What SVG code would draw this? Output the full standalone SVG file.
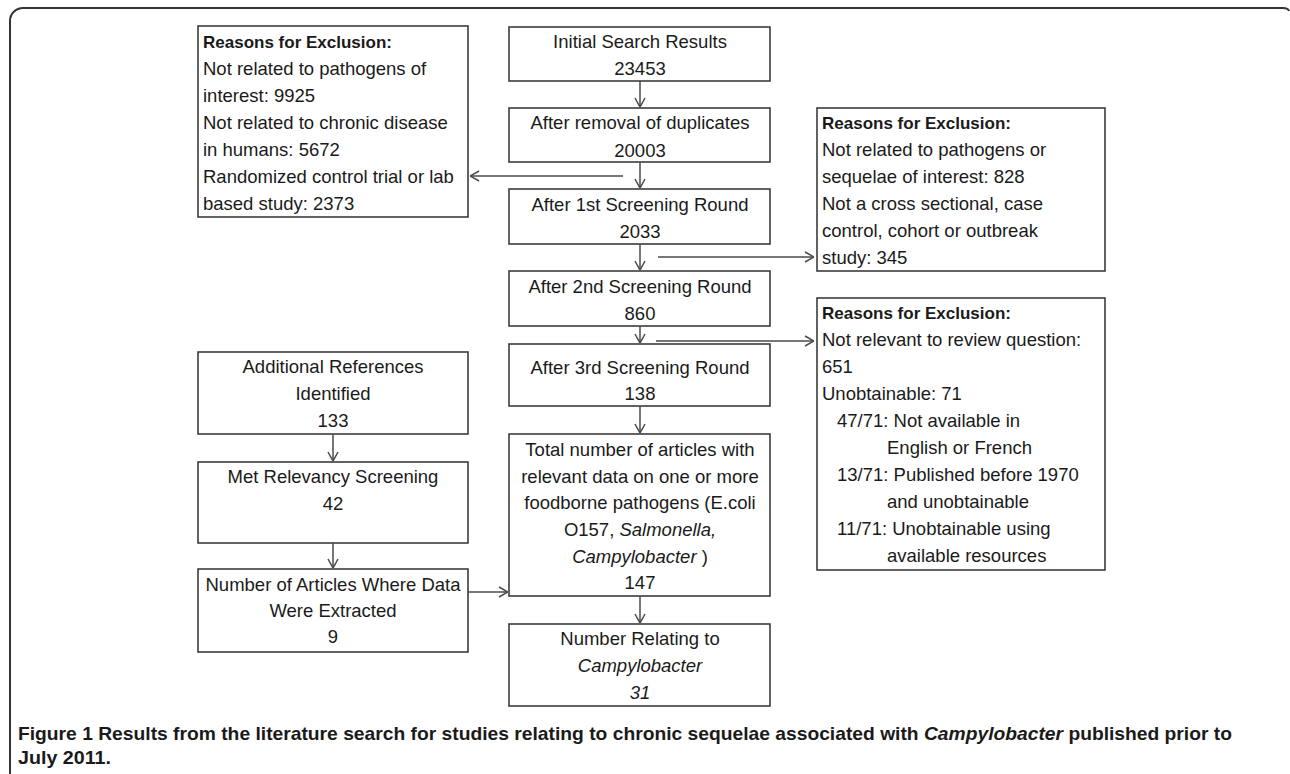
<svg xmlns="http://www.w3.org/2000/svg" width="1290" height="774" viewBox="0 0 1290 774">
<style>
.box{fill:#fff;stroke:#3c3c3c;stroke-width:1.6}
.t{font-family:"Liberation Sans",Arial,sans-serif;font-size:18.5px;fill:#1a1a1a}
.c{text-anchor:middle}
.b{font-weight:bold;font-size:17px}
.i{font-style:italic}
.con{stroke:#4a4a4a;stroke-width:1.5;fill:none}
.cap{font-family:"Liberation Sans",Arial,sans-serif;font-size:19px;font-weight:bold;fill:#1a1a1a}
</style>
<defs>
<marker id="ah" viewBox="0 0 10 12" refX="10" refY="6" markerWidth="10" markerHeight="12" markerUnits="userSpaceOnUse" orient="auto">
<path d="M1,1 L10,6 L1,11" fill="none" stroke="#4a4a4a" stroke-width="1.5"/>
</marker>
</defs>
<rect width="1290" height="774" fill="#fff"/>
<path d="M10,774 V21 A13,13 0 0 1 23,8 H1283 Q1288,8 1289,11" fill="none" stroke="#333" stroke-width="2"/>

<g id="excl1">
<rect class="box" x="198" y="26" width="270" height="191"/>
<text class="t b" x="203" y="48">Reasons for Exclusion:</text>
<text class="t" x="203" y="75">Not related to pathogens of</text>
<text class="t" x="203" y="102">interest: 9925</text>
<text class="t" x="203" y="129">Not related to chronic disease</text>
<text class="t" x="203" y="156">in humans: 5672</text>
<text class="t" x="203" y="183">Randomized control trial or lab</text>
<text class="t" x="203" y="210">based study: 2373</text>
</g>

<g id="initial">
<rect class="box" x="509" y="27" width="261" height="54"/>
<text class="t c" x="640" y="48">Initial Search Results</text>
<text class="t c" x="640" y="75">23453</text>
</g>
<g id="dedup">
<rect class="box" x="509" y="108" width="261" height="54"/>
<text class="t c" x="640" y="129">After removal of duplicates</text>
<text class="t c" x="640" y="157">20003</text>
</g>
<g id="round1">
<rect class="box" x="509" y="189" width="261" height="55"/>
<text class="t c" x="640" y="211">After 1st Screening Round</text>
<text class="t c" x="640" y="238">2033</text>
</g>
<g id="round2">
<rect class="box" x="509" y="271" width="261" height="55"/>
<text class="t c" x="640" y="293">After 2nd Screening Round</text>
<text class="t c" x="640" y="320">860</text>
</g>
<g id="round3">
<rect class="box" x="509" y="344" width="261" height="62"/>
<text class="t c" x="640" y="374">After 3rd Screening Round</text>
<text class="t c" x="640" y="400">138</text>
</g>
<g id="total">
<rect class="box" x="509" y="434" width="261" height="162"/>
<text class="t c" x="640" y="456">Total number of articles with</text>
<text class="t c" x="640" y="483">relevant data on one or more</text>
<text class="t c" x="640" y="509">foodborne pathogens (E.coli</text>
<text class="t c" x="640" y="536">O157, <tspan class="i">Salmonella,</tspan></text>
<text class="t c" x="640" y="563"><tspan class="i">Campylobacter</tspan> )</text>
<text class="t c" x="640" y="589">147</text>
</g>
<g id="campy">
<rect class="box" x="509" y="624" width="261" height="82"/>
<text class="t c" x="640" y="645">Number Relating to</text>
<text class="t c i" x="640" y="672">Campylobacter</text>
<text class="t c i" x="640" y="699">31</text>
</g>

<g id="excl2">
<rect class="box" x="817" y="108" width="288" height="163"/>
<text class="t b" x="822" y="129">Reasons for Exclusion:</text>
<text class="t" x="822" y="156">Not related to pathogens or</text>
<text class="t" x="822" y="183">sequelae of interest: 828</text>
<text class="t" x="822" y="210">Not a cross sectional, case</text>
<text class="t" x="822" y="237">control, cohort or outbreak</text>
<text class="t" x="822" y="264">study: 345</text>
</g>
<g id="excl3">
<rect class="box" x="817" y="298" width="288" height="272"/>
<text class="t b" x="822" y="319">Reasons for Exclusion:</text>
<text class="t" x="822" y="346">Not relevant to review question:</text>
<text class="t" x="822" y="373">651</text>
<text class="t" x="822" y="400">Unobtainable: 71</text>
<text class="t" x="837" y="427">47/71: Not available in</text>
<text class="t" x="887" y="454">English or French</text>
<text class="t" x="837" y="481">13/71: Published before 1970</text>
<text class="t" x="887" y="508">and unobtainable</text>
<text class="t" x="837" y="535">11/71: Unobtainable using</text>
<text class="t" x="887" y="562">available resources</text>
</g>

<g id="additional">
<rect class="box" x="198" y="352" width="270" height="82"/>
<text class="t c" x="333" y="373">Additional References</text>
<text class="t c" x="333" y="400">Identified</text>
<text class="t c" x="333" y="427">133</text>
</g>
<g id="relevancy">
<rect class="box" x="198" y="462" width="270" height="81"/>
<text class="t c" x="333" y="483">Met Relevancy Screening</text>
<text class="t c" x="333" y="510">42</text>
</g>
<g id="extracted">
<rect class="box" x="198" y="569" width="270" height="83"/>
<text class="t c" x="333" y="591">Number of Articles Where Data</text>
<text class="t c" x="333" y="617">Were Extracted</text>
<text class="t c" x="333" y="643">9</text>
</g>

<g id="connectors">
<line class="con" x1="640" y1="81" x2="640" y2="107" marker-end="url(#ah)"/>
<line class="con" x1="640" y1="162" x2="640" y2="188" marker-end="url(#ah)"/>
<line class="con" x1="623" y1="176" x2="470" y2="176" marker-end="url(#ah)"/>
<line class="con" x1="640" y1="244" x2="640" y2="270" marker-end="url(#ah)"/>
<line class="con" x1="658" y1="257" x2="814" y2="257" marker-end="url(#ah)"/>
<line class="con" x1="640" y1="326" x2="640" y2="343" marker-end="url(#ah)"/>
<line class="con" x1="656" y1="341" x2="814" y2="341" marker-end="url(#ah)"/>
<line class="con" x1="640" y1="406" x2="640" y2="433" marker-end="url(#ah)"/>
<line class="con" x1="640" y1="596" x2="640" y2="623" marker-end="url(#ah)"/>
<line class="con" x1="333" y1="434" x2="333" y2="461" marker-end="url(#ah)"/>
<line class="con" x1="333" y1="543" x2="333" y2="568" marker-end="url(#ah)"/>
<line class="con" x1="468" y1="592" x2="508" y2="592" marker-end="url(#ah)"/>
</g>

<text class="cap" x="18" y="740" textLength="1214" lengthAdjust="spacingAndGlyphs">Figure 1 <tspan font-weight="600">Results from the literature search for studies relating to chronic sequelae associated with </tspan><tspan font-style="italic">Campylobacter</tspan><tspan> published prior to</tspan></text>
<text class="cap" x="18" y="764" textLength="93" lengthAdjust="spacingAndGlyphs">July 2011.</text>
</svg>
